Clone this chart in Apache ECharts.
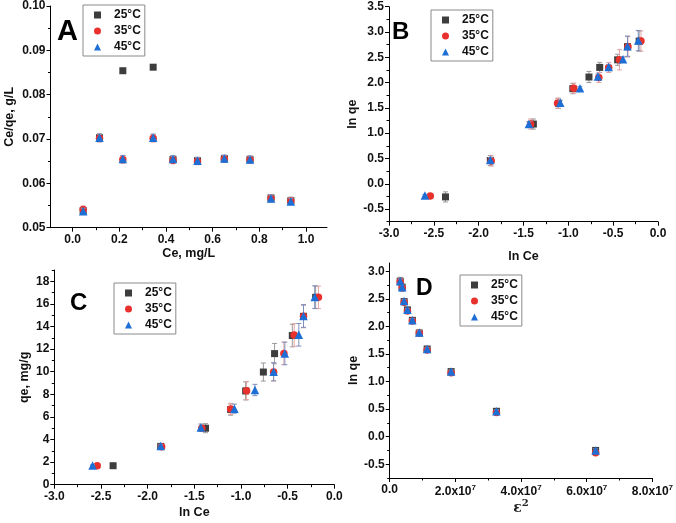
<!DOCTYPE html>
<html><head><meta charset="utf-8">
<script src="https://cdn.jsdelivr.net/npm/echarts@6/dist/echarts.min.js"></script>
<style>html,body{margin:0;padding:0;background:#fff}#c{width:676px;height:523px}</style>
</head><body><div id="c"></div>
<script>
// ---- data ----
var seriesNames = ['25°C', '35°C', '45°C'];
// Panel A
var aX = [0.045, 0.115, 0.215, 0.345, 0.43, 0.535, 0.65, 0.76, 0.85, 0.935];
var a25 = [0.0538, 0.0703, 0.0854, 0.0862, 0.0654, 0.0651, 0.0656, 0.0654, 0.0567, 0.0561];
var a35 = [0.0541, 0.0702, 0.0654, 0.0702, 0.0652, 0.0650, 0.0655, 0.0653, 0.0566, 0.0560];
var a45 = [0.0537, 0.0703, 0.0655, 0.0703, 0.0655, 0.0651, 0.0656, 0.0654, 0.0566, 0.0559];
var a25e = [0.0008, 0.0009, 0.0003, 0.0003, 0.0008, 0.0008, 0.0008, 0.0008, 0.0008, 0.0008];
var a35e = [0.0008, 0.0009, 0.0009, 0.0009, 0.0008, 0.0008, 0.0008, 0.0008, 0.0008, 0.0008];
var a45e = [0.0007, 0.0008, 0.0008, 0.0008, 0.0007, 0.0007, 0.0007, 0.0007, 0.0007, 0.0007];
// Panel B
var b25x = [-2.37, -1.87, -1.39, -1.11, -0.95, -0.77, -0.65, -0.45, -0.34, -0.21];
var b25y = [-0.26, 0.46, 1.18, 1.59, 1.88, 2.11, 2.30, 2.45, 2.71, 2.82];
var b25e = [0.1, 0.1, 0.1, 0.1, 0.1, 0.11, 0.1, 0.11, 0.2, 0.2];
var b35x = [-2.54, -1.86, -1.42, -1.12, -0.94, -0.66, -0.55, -0.43, -0.335, -0.19];
var b35y = [-0.24, 0.45, 1.18, 1.59, 1.89, 2.10, 2.30, 2.45, 2.71, 2.82];
var b35e = [0.03, 0.1, 0.1, 0.1, 0.1, 0.1, 0.1, 0.2, 0.2, 0.2];
var b45x = [-2.60, -1.87, -1.44, -1.09, -0.87, -0.67, -0.55, -0.39, -0.34, -0.22];
var b45y = [-0.23, 0.47, 1.18, 1.60, 1.89, 2.12, 2.31, 2.46, 2.72, 2.83];
var b45e = [0.02, 0.05, 0.05, 0.05, 0.03, 0.05, 0.05, 0.05, 0.2, 0.2];
// Panel C
var c25x = [-2.37, -1.86, -1.38, -1.11, -0.95, -0.76, -0.64, -0.45, -0.33, -0.20];
var c25y = [1.68, 3.39, 5.0, 6.65, 8.3, 9.97, 11.6, 13.2, 14.9, 16.58];
var c25e = [0.1, 0.2, 0.4, 0.5, 0.8, 0.8, 0.9, 1.0, 1.0, 1.0];
var c35x = [-2.54, -1.85, -1.42, -1.11, -0.94, -0.65, -0.54, -0.43, -0.33, -0.17];
var c35y = [1.68, 3.36, 5.0, 6.7, 8.32, 9.97, 11.62, 13.25, 14.9, 16.58];
var c35e = [0.05, 0.2, 0.3, 0.5, 0.8, 0.8, 1.0, 1.0, 1.0, 1.0];
var c45x = [-2.59, -1.86, -1.43, -1.07, -0.85, -0.65, -0.53, -0.38, -0.33, -0.21];
var c45y = [1.71, 3.42, 5.07, 6.73, 8.38, 10.0, 11.62, 13.27, 14.93, 16.6];
var c45e = [0.05, 0.15, 0.3, 0.4, 0.5, 0.8, 1.0, 1.0, 1.0, 1.0];
// Panel D
var dX = [3.2e6, 3.8e6, 4.4e6, 5.4e6, 6.9e6, 9.0e6, 1.14e7, 1.87e7, 3.25e7, 6.27e7];
var d25 = [2.82, 2.71, 2.45, 2.30, 2.11, 1.88, 1.59, 1.18, 0.46, -0.25];
var d35 = [2.81, 2.70, 2.44, 2.28, 2.10, 1.88, 1.57, 1.16, 0.44, -0.29];
var d45 = [2.82, 2.71, 2.46, 2.30, 2.11, 1.89, 1.59, 1.18, 0.46, -0.25];
var d25e = [0.07, 0.07, 0.04, 0.03, 0.03, 0.03, 0.03, 0.03, 0.03, 0.03];
var d35e = [0.05, 0.05, 0.03, 0.03, 0.03, 0.03, 0.03, 0.03, 0.03, 0.03];
var d45e = [0.04, 0.04, 0.03, 0.03, 0.03, 0.03, 0.03, 0.03, 0.03, 0.03];
// tick values
var aXMajor = [0, 0.2, 0.4, 0.6, 0.8, 1.0];
var aXMinor = [0.1, 0.3, 0.5, 0.7, 0.9];
var aYMajor = [0.05, 0.06, 0.07, 0.08, 0.09, 0.10];
var aYMinor = [0.055, 0.065, 0.075, 0.085, 0.095];
var lnCeMajor = [-3.0, -2.5, -2.0, -1.5, -1.0, -0.5, 0.0];
var lnCeMinor = [-2.75, -2.25, -1.75, -1.25, -0.75, -0.25];
var bYMajor = [-0.5, 0.0, 0.5, 1.0, 1.5, 2.0, 2.5, 3.0, 3.5];
var bYMinor = [-0.75, -0.25, 0.25, 0.75, 1.25, 1.75, 2.25, 2.75, 3.25];
var cYMajor = [0, 2, 4, 6, 8, 10, 12, 14, 16, 18];
var cYMinor = [1, 3, 5, 7, 9, 11, 13, 15, 17, 19];
var dXMajor = [0, 2e7, 4e7, 6e7, 8e7];
var dXMinor = [1e7, 3e7, 5e7, 7e7];
var dYMajor = [-0.5, 0.0, 0.5, 1.0, 1.5, 2.0, 2.5, 3.0];
var dYMinor = [-0.75, -0.25, 0.25, 0.75, 1.25, 1.75, 2.25, 2.75];

// ---- styles ----
var colors = ['#3d3d3d', '#e8312c', '#1d6fd6'];
var errColors = ['#9a9a9a', '#e3a3a3', '#7f8fbf'];
var symbols = ['rect', 'circle', 'triangle'];
var symSizes = [7, 7.5, 8.5];
var FONT = 'Liberation Sans';

function zip(xs, ys) { return xs.map(function (x, i) { return [x, ys[i]]; }); }
function zipE(xs, ys, es) { return xs.map(function (x, i) { return [x, ys[i], es[i]]; }); }

var xAxes = [], yAxes = [], series = [];

function axisPair(list, isX, grid, min, max, majors, minors, fmt, name, nameGap, rich) {
  var mainIdx = list.length;
  list.push({
    type: 'value', gridIndex: grid, min: min, max: max,
    position: isX ? 'bottom' : 'left',
    axisLine: { show: true, onZero: false, lineStyle: { color: '#000', width: 1 } },
    axisTick: { show: true, customValues: majors, length: 4, lineStyle: { color: '#000' } },
    axisLabel: { show: true, customValues: majors, formatter: fmt, margin: isX ? 6 : 5,
      fontFamily: FONT, fontWeight: 'bold', fontSize: 12, color: '#111', rich: rich || {} },
    splitLine: { show: false },
    name: name, nameLocation: 'middle', nameGap: nameGap,
    nameTextStyle: { fontFamily: FONT, fontWeight: 'bold', fontSize: 12.5, color: '#111',
      rich: { e: { fontFamily: 'DejaVu Serif', fontSize: 14, color: '#222' },
              s: { fontFamily: 'DejaVu Serif', fontSize: 10, color: '#222', padding: [0, 0, 9, 0] } } }
  });
  list.push({
    type: 'value', gridIndex: grid, min: min, max: max,
    position: isX ? 'bottom' : 'left',
    axisLine: { show: false, onZero: false },
    axisTick: { show: true, customValues: minors, length: 2.5, lineStyle: { color: '#000' } },
    axisLabel: { show: false },
    splitLine: { show: false }
  });
  return mainIdx;
}

function addPanel(grid, xi, yi, sets) {
  sets.forEach(function (s, k) {
    var ec = errColors[k];
    series.push({
      type: 'scatter', name: seriesNames[k], xAxisIndex: xi, yAxisIndex: yi,
      data: zip(s[0], s[1]), symbol: symbols[k], symbolSize: symSizes[k], z: 3 + k * 2,
      itemStyle: { color: colors[k], opacity: 1 }
    });
    series.push({
      type: 'custom', name: seriesNames[k], xAxisIndex: xi, yAxisIndex: yi,
      data: zipE(s[0], s[1], s[2]), silent: true, z: 2 + k * 2,
      itemStyle: { color: colors[k] },
      renderItem: function (params, api) {
        var x = api.value(0), y = api.value(1), e = api.value(2);
        var p1 = api.coord([x, y - e]), p2 = api.coord([x, y + e]);
        var w = 2.5;
        var st = { stroke: ec, lineWidth: 1, fill: null };
        return { type: 'group', children: [
          { type: 'line', shape: { x1: p1[0], y1: p1[1], x2: p2[0], y2: p2[1] }, style: st },
          { type: 'line', shape: { x1: p1[0] - w, y1: p1[1], x2: p1[0] + w, y2: p1[1] }, style: st },
          { type: 'line', shape: { x1: p2[0] - w, y1: p2[1], x2: p2[0] + w, y2: p2[1] }, style: st }
        ] };
      }
    });
  });
}

var f1 = function (v) { return v.toFixed(1); };
var f2 = function (v) { return v.toFixed(2); };
var f0 = function (v) { return String(Math.round(v)); };
var fD = function (v) { if (v === 0) return '0.0'; return (v / 1e7).toFixed(1) + 'x10{s|7}'; };

var grids = [
  { left: 50.5, top: 5, width: 276.5, height: 222.7 },
  { left: 389, top: 6.7, width: 269, height: 215 },
  { left: 54.3, top: 270, width: 280, height: 214.7 },
  { left: 389.7, top: 263, width: 266.7, height: 215 }
];

// Panel A
var ax = axisPair(xAxes, true, 0, -0.095, 1.09, aXMajor, aXMinor, f1, 'Ce, mg/L', 19);
var ay = axisPair(yAxes, false, 0, 0.05, 0.10, aYMajor, aYMinor, f2, 'Ce/qe, g/L', 34);
addPanel(0, ax, ay, [[aX, a25, a25e], [aX, a35, a35e], [aX, a45, a45e]]);
// Panel B
var bx = axisPair(xAxes, true, 1, -3, 0, lnCeMajor, lnCeMinor, f1, 'ln Ce', 28);
var by = axisPair(yAxes, false, 1, -0.75, 3.5, bYMajor, bYMinor, f1, 'ln qe', 28);
addPanel(1, bx, by, [[b25x, b25y, b25e], [b35x, b35y, b35e], [b45x, b45y, b45e]]);
// Panel C
var cx = axisPair(xAxes, true, 2, -3, 0, lnCeMajor, lnCeMinor, f1, 'ln Ce', 21);
var cy = axisPair(yAxes, false, 2, 0, 19, cYMajor, cYMinor, f0, 'qe, mg/g', 23);
addPanel(2, cx, cy, [[c25x, c25y, c25e], [c35x, c35y, c35e], [c45x, c45y, c45e]]);
// Panel D
var dx = axisPair(xAxes, true, 3, 0, 8e7, dXMajor, dXMinor, fD, '{e|ε}{s|2}', 20,
  { s: { fontFamily: FONT, fontWeight: 'bold', fontSize: 8, color: '#111', padding: [0, 0, 7, 0] } });
var dy = axisPair(yAxes, false, 3, -0.75, 3.15, dYMajor, dYMinor, f1, 'ln qe', 30);
addPanel(3, dx, dy, [[dX, d25, d25e], [dX, d35, d35e], [dX, d45, d45e]]);

function legend(left, top) {
  return {
    orient: 'vertical', left: left, top: top, selectedMode: false,
    data: seriesNames.map(function (n, k) { return { name: n, icon: symbols[k] }; }),
    itemWidth: 7, itemHeight: 7, itemGap: 4,
    borderColor: '#8a8a8a', borderWidth: 1, padding: [4, 4, 3, 11],
    textStyle: { fontFamily: FONT, fontWeight: 'bold', fontSize: 12, color: '#111', padding: [0, 0, 0, 8] }
  };
}

function letter(t, x, y, size) {
  return { type: 'text', left: x, top: y,
    style: { text: t, fontFamily: FONT, fontWeight: 'bold', fontSize: size, fill: '#000' } };
}

var chart = echarts.init(document.getElementById('c'), null, { renderer: 'canvas' });
chart.setOption({
  animation: false,
  backgroundColor: '#fff',
  grid: grids,
  xAxis: xAxes,
  yAxis: yAxes,
  legend: [legend(83, 5), legend(431, 10), legend(114, 283), legend(460, 275)],
  graphic: [letter('A', 57, 17, 29), letter('B', 392, 20, 24), letter('C', 70, 291, 24), letter('D', 416, 277, 23)],
  series: series
});
</script>
</body></html>
